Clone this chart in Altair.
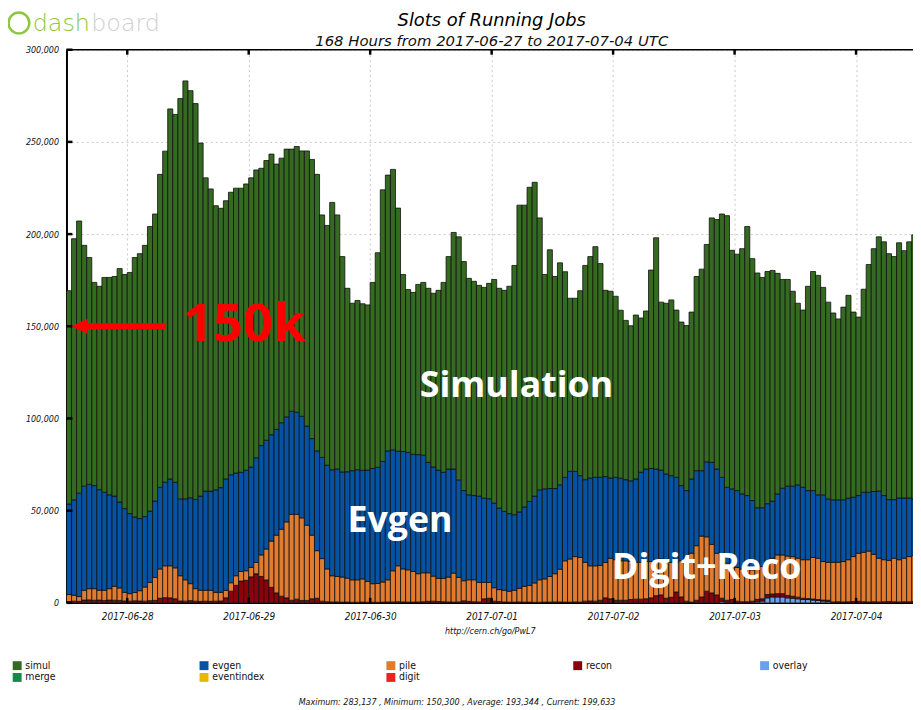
import altair as alt
import pandas as pd

# ---------------- data ----------------
HOUR = 3600 * 1000
START = int(pd.Timestamp("2017-06-27 12:00", tz="UTC").timestamp() * 1000)

# cumulative top of the whole stack (simul top)
total_top = [
    169300, 197500, 207100, 193900, 187300, 173800, 171700, 176500, 176500, 177000, 181300, 178100,
    179200, 187300, 189400, 193900, 204100, 210900, 232400, 245000, 267900, 264900, 273500, 283100,
    277800, 270800, 249400, 230500, 224500, 215400, 214000, 218100, 222700, 224900, 224900, 227200,
    230500, 234800, 235700, 239900, 243400, 238000, 241200, 246100, 246100, 247500, 245100, 245100,
    240500, 232400, 210400, 204700, 217200, 210400, 187800, 170600, 162500, 164000, 162200, 161600,
    173800, 189900, 224000, 232000, 235100, 214100, 178100, 169900, 168400, 172700, 173800, 170600,
    167900, 169500, 173800, 187800, 200900, 198500, 185100, 176000, 174400, 172200, 171100, 173300,
    175400, 170600, 169500, 171700, 183000, 215700, 215700, 225400, 228100, 208800, 178100, 191500,
    177000, 184400, 179600, 165200, 165200, 169300, 183000, 187800, 193200, 184000, 169500, 169000,
    166300, 158700, 153200, 150300, 156100, 154500, 158300, 180500, 198000, 163100, 162500, 164300,
    158800, 152300, 150400, 157700, 177000, 181000, 194400, 208800, 207900, 210900, 210000, 191200,
    189100, 192100, 204100, 186700, 178900, 176500, 179700, 180300, 178700, 175400, 175400, 169000,
    162500, 158800, 171700, 179700, 177600, 171100, 163100, 157200, 154000, 160400, 166800, 157700,
    155000, 170100, 183500, 192100, 198500, 195800, 189400, 187800, 195300, 191000, 195800, 199600,
]
# cumulative top of evgen
evgen_top = [
    53600, 55900, 59500, 63300, 64300, 63600, 61400, 60000, 58600, 57900, 54700, 51100,
    48400, 46600, 45700, 46800, 49800, 55200, 62700, 65400, 67200, 65400, 56400, 56400,
    57000, 56100, 57900, 60600, 60600, 61300, 62500, 67200, 69500, 70400, 70800, 71900,
    73700, 78700, 85300, 88200, 91200, 94100, 97700, 100900, 103900, 103400, 101200, 95900,
    89100, 82400, 78900, 74700, 72200, 72600, 71000, 71100, 71700, 72200, 71900, 72000,
    72900, 73500, 76700, 82400, 83000, 82300, 82100, 81600, 80600, 80400, 80100, 76200,
    73700, 72000, 70800, 72600, 72600, 66700, 60900, 58600, 58200, 57900, 56800, 56500,
    54100, 51400, 49600, 48400, 47800, 49300, 52000, 55000, 57900, 61300, 61800, 62000,
    62000, 64000, 68100, 71300, 71300, 69000, 66800, 67700, 68100, 68100, 68500, 67700,
    68100, 67600, 66800, 66200, 67200, 70800, 72600, 72900, 72600, 72000, 69900, 69000,
    68100, 63600, 60900, 67200, 71700, 71700, 76500, 76200, 72600, 68100, 62700, 61800,
    60900, 59100, 58200, 55500, 51600, 51600, 53800, 55200, 59100, 62200, 63300, 63300,
    64000, 62700, 60900, 60900, 58600, 58600, 56400, 55900, 55900, 55900, 56800, 57300,
    58200, 60000, 60000, 60400, 60600, 58200, 56000, 56000, 56900, 56900, 56900, 56400,
]
# cumulative top of pile
pile_top = [
    4500, 4100, 3400, 6800, 7700, 7700, 6800, 6800, 7700, 9000, 8100, 5700,
    5000, 5600, 6600, 8600, 11100, 13800, 18400, 20100, 20100, 19000, 14700, 12500,
    10400, 7700, 6800, 6800, 6800, 5700, 5700, 6800, 10900, 14700, 17000, 17400,
    19200, 21900, 26000, 29200, 33500, 36700, 39900, 43900, 48000, 48000, 46100, 42100,
    36700, 28300, 24000, 18400, 14700, 14300, 14000, 13400, 12500, 12500, 13000, 11600,
    10400, 10500, 11300, 12500, 17400, 20100, 18400, 17900, 17000, 15800, 16300, 16300,
    14500, 13300, 13300, 14000, 16100, 13800, 12000, 12500, 12500, 11100, 11100, 11100,
    8200, 7200, 6800, 6300, 6800, 7900, 9000, 9500, 10800, 12500, 13000, 14300,
    15800, 18300, 22800, 23800, 25100, 24600, 22000, 20100, 20100, 20300, 21900, 24200,
    23400, 22800, 22800, 22400, 22000, 22000, 22400, 22400, 23400, 23800, 23000, 22000,
    22000, 22800, 24200, 26900, 31000, 36200, 35800, 31700, 26900, 23400, 21500, 19700,
    19200, 18300, 18300, 17900, 18300, 19700, 22400, 24200, 26000, 26000, 25400, 25100,
    24200, 23400, 23400, 24600, 24200, 22400, 22000, 22000, 22000, 22400, 23400, 25100,
    26900, 27400, 28100, 26300, 24200, 23400, 23000, 24200, 23400, 24200, 25100, 25600,
]
recon = [
    700, 900, 800, 1500, 1600, 1400, 1500, 1300, 1500, 1400, 1300, 1000,
    900, 1100, 1000, 900, 1200, 1300, 2500, 2800, 2700, 2200, 1000, 900,
    1200, 900, 800, 900, 800, 900, 1000, 2700, 6300, 9500, 11800, 12200,
    14100, 15800, 14300, 12400, 8400, 5400, 3600, 2700, 1400, 2000, 1300, 1300,
    2200, 2500, 900, 600, 500, 500, 400, 400, 300, 300, 400, 300,
    300, 300, 400, 500, 500, 600, 500, 400, 400, 500, 600, 800,
    900, 700, 600, 500, 400, 500, 1100, 800, 600, 500, 2200, 2500,
    900, 700, 500, 400, 400, 500, 400, 400, 300, 300, 400, 400,
    500, 500, 400, 400, 500, 400, 900, 1000, 900, 1400, 2700, 2200,
    1400, 1400, 1400, 1800, 2000, 2000, 2200, 2700, 3900, 4300, 2500, 3000,
    5900, 3200, 900, 400, 1400, 3200, 6300, 5400, 4300, 1700, 1400, 1800,
    900, 600, 600, 900, 1300, 1200, 1800, 1600, 1800, 1800, 1300, 1100,
    900, 700, 500, 600, 500, 500, 600, 500, 600, 500, 600, 700,
    800, 600, 500, 600, 500, 600, 700, 600, 500, 600, 600, 700,
]
overlay = [
    0, 0, 0, 0, 0, 0, 0, 0, 0, 0, 0, 0,
    0, 0, 0, 0, 0, 0, 0, 0, 0, 0, 0, 0,
    0, 0, 0, 0, 0, 0, 0, 0, 0, 0, 0, 0,
    0, 0, 0, 0, 0, 0, 0, 0, 0, 0, 0, 0,
    0, 0, 0, 0, 0, 0, 0, 0, 0, 0, 0, 0,
    0, 0, 0, 0, 0, 0, 0, 0, 0, 0, 0, 0,
    0, 0, 0, 0, 0, 0, 0, 0, 0, 0, 0, 0,
    0, 0, 0, 0, 0, 0, 0, 0, 0, 0, 0, 0,
    0, 0, 0, 0, 0, 0, 0, 0, 0, 0, 0, 0,
    0, 0, 0, 0, 0, 0, 0, 0, 0, 0, 0, 0,
    0, 0, 0, 0, 0, 0, 0, 0, 0, 800, 0, 0,
    0, 0, 0, 0, 600, 1000, 2700, 3200, 3200, 3200, 2700, 2500,
    2200, 1800, 1800, 1500, 1300, 1000, 800, 0, 0, 0, 0, 0,
    0, 0, 0, 0, 0, 0, 0, 0, 0, 0, 0, 0,
]

series = ["simul", "evgen", "pile", "recon", "overlay", "merge", "eventindex", "digit"]
colors = ["#356b21", "#0652a3", "#e07b2f", "#8b000c", "#6a9ff0", "#14894a", "#e8b800", "#ee2020"]
stack_order = {"overlay": 0, "recon": 1, "pile": 2, "evgen": 3, "simul": 4}

day_labels = ["2017-06-28", "2017-06-29", "2017-06-30", "2017-07-01",
              "2017-07-02", "2017-07-03", "2017-07-04"]
y_ticks = [0, 50000, 100000, 150000, 200000, 250000, 300000]

title_text = "Slots of Running Jobs"
subtitle_text = "168 Hours from 2017-06-27 to 2017-07-04 UTC"
footer = "Maximum: 283,137 , Minimum: 150,300 , Average: 193,344 , Current: 199,633"

# ---------------- build table ----------------
rows = []
for i in range(len(total_top)):
    t0 = START + i * HOUR
    parts = {
        "overlay": overlay[i],
        "recon": recon[i],
        "pile": pile_top[i] - recon[i] - overlay[i],
        "evgen": evgen_top[i] - pile_top[i],
        "simul": total_top[i] - evgen_top[i],
    }
    for name, v in parts.items():
        rows.append({"t": t0, "t2": t0 + HOUR, "series": name, "value": v,
                     "order": stack_order[name]})
df = pd.DataFrame(rows)
day_ms = [int(pd.Timestamp(d, tz="UTC").timestamp() * 1000) for d in day_labels]

LF = "DejaVu Sans Condensed, DejaVu Sans"
URL = "http://cern.ch/go/PwL7"

x_scale = alt.Scale(type="utc", domain=[START, START + int(167.25 * HOUR)], nice=False)
y_scale = alt.Scale(domain=[0, 300000], nice=False)

x_axis = alt.Axis(values=day_ms, format="%Y-%m-%d", labelFont=LF, labelFontSize=10,
                  labelFontStyle="italic", labelColor="#111", labelPadding=9, ticks=False,
                  domainColor="black", domainWidth=1.5, grid=True, gridColor="#c8c8c8",
                  gridDash=[2, 3], title=URL, titleFont=LF, titleFontSize=9,
                  titleFontStyle="italic", titleFontWeight="normal", titlePadding=5,
                  titleColor="#111", labelFlush=False)
y_axis = alt.Axis(values=y_ticks, format=",d", labelFont=LF, labelFontSize=9,
                  labelFontStyle="italic", labelColor="#111", labelPadding=8, ticks=False,
                  domainColor="black", domainWidth=2, grid=True, gridColor="#c8c8c8",
                  gridDash=[2, 3], title=None)

legend = alt.Legend(orient="none", legendX=-55, legendY=616, direction="horizontal",
                    columns=5, title=None, symbolType="square", symbolSize=81,
                    symbolStrokeWidth=0, labelFont=LF, labelFontSize=10.5, labelColor="#111",
                    gridAlign="all", columnPadding=121.5, rowPadding=1, labelOffset=3,
                    padding=0, labelLimit=200)

bars = alt.Chart(df).transform_stack(
    stack="value", as_=["y0", "y1"], groupby=["t"], sort=[alt.SortField("order")]
).mark_bar(stroke="#111", strokeWidth=0.8, clip=True).encode(
    x=alt.X("t:T", scale=x_scale, axis=x_axis, title=URL),
    x2="t2:T",
    y=alt.Y("y0:Q", scale=y_scale, axis=y_axis, title=None),
    y2="y1:Q",
    color=alt.Color("series:N", scale=alt.Scale(domain=series, range=colors), legend=legend),
)

# frame top line and inward ticks
top_line = alt.Chart(pd.DataFrame({"v": [300000]})).mark_rule(
    color="black", strokeWidth=1.5).encode(y=alt.Y("v:Q", scale=y_scale, title=None))
yt = alt.Chart(pd.DataFrame({"v": y_ticks})).mark_rule(color="black", strokeWidth=2.5).encode(
    y=alt.Y("v:Q", scale=y_scale, title=None), x=alt.value(0), x2=alt.value(6))
days_df = pd.DataFrame({"t": day_ms})
xt_top = alt.Chart(days_df).mark_rule(color="black", strokeWidth=2.5).encode(
    x=alt.X("t:T", scale=x_scale, title=URL), y=alt.value(0), y2=alt.value(5))
xt_bot = alt.Chart(days_df).mark_rule(color="black", strokeWidth=2.5).encode(
    x=alt.X("t:T", scale=x_scale, title=URL), y=alt.value(553), y2=alt.value(558))

# annotations
arrow_df = pd.DataFrame({"t": [START + int(3.9 * HOUR)], "t2": [START + int(19.6 * HOUR)],
                         "v": [150000]})
arrow_line = alt.Chart(arrow_df).mark_rule(color="#ff0000", strokeWidth=6).encode(
    x=alt.X("t:T", scale=x_scale, title=URL), x2="t2:T",
    y=alt.Y("v:Q", scale=y_scale, title=None))
head_df = pd.DataFrame({"t": [START + int(2.55 * HOUR)], "v": [150000]})
arrow_head = alt.Chart(head_df).mark_point(
    shape="M-1,0L1,-0.95L1,0.95Z", size=256, filled=True, color="#ff0000", opacity=1,
    strokeWidth=0).encode(
    x=alt.X("t:T", scale=x_scale, title=URL), y=alt.Y("v:Q", scale=y_scale, title=None))

k_df = pd.DataFrame({"t": [START + int(23.0 * HOUR)], "v": [150500], "label": ["150k"]})
k_text = alt.Chart(k_df).mark_text(font="Open Sans", fontWeight="bold", fontSize=53,
                                   color="#ff0000", align="left", baseline="middle").encode(
    x=alt.X("t:T", scale=x_scale, title=URL), y=alt.Y("v:Q", scale=y_scale, title=None),
    text="label:N")

lab_df = pd.DataFrame({
    "t": [START + int(88.9 * HOUR), START + int(65.9 * HOUR), START + int(126.5 * HOUR)],
    "v": [117800, 44100, 19000],
    "label": ["Simulation", "Evgen", "Digit+Reco"],
})
lab_text = alt.Chart(lab_df).mark_text(font="Open Sans", fontWeight="bold", fontSize=36,
                                       color="white", align="center", baseline="middle").encode(
    x=alt.X("t:T", scale=x_scale, title=URL), y=alt.Y("v:Q", scale=y_scale, title=None),
    text="label:N")

foot = alt.Chart(pd.DataFrame({"label": [footer]})).mark_text(
    font=LF, fontSize=9, fontStyle="italic", color="#111", align="center",
    baseline="middle").encode(text="label:N", x=alt.value(394), y=alt.value(658))

title_mark = alt.Chart(pd.DataFrame({"label": [title_text]})).mark_text(
    font="DejaVu Sans", fontSize=18, fontStyle="italic", color="black", align="center",
    baseline="alphabetic").encode(text="label:N", x=alt.value(429), y=alt.value(-24))
subtitle_mark = alt.Chart(pd.DataFrame({"label": [subtitle_text]})).mark_text(
    font="DejaVu Sans", fontSize=15, fontStyle="italic", color="#111", align="center",
    baseline="alphabetic").encode(text="label:N", x=alt.value(429), y=alt.value(-4))

logo_dash = alt.Chart(pd.DataFrame({"label": ["dash"]})).mark_text(
    font="DejaVu Sans", fontWeight=200, fontSize=24, color="#8dc63f", align="left",
    baseline="top").encode(text="label:N", x=alt.value(-34), y=alt.value(-38))
logo_board = alt.Chart(pd.DataFrame({"label": ["board"]})).mark_text(
    font="DejaVu Sans", fontWeight=200, fontSize=24, color="#cfcfcf", align="left",
    baseline="top").encode(text="label:N", x=alt.value(25), y=alt.value(-38))
logo_icon = alt.Chart(pd.DataFrame({"label": ["icon"]})).mark_point(
    shape="circle", size=440, filled=False, color="#8dc63f", strokeWidth=2.5, opacity=1).encode(
    x=alt.value(-48), y=alt.value(-27))

chart = alt.layer(
    bars, top_line, yt, xt_top, xt_bot, arrow_line, arrow_head, k_text, lab_text,
    foot, title_mark, subtitle_mark, logo_icon, logo_dash, logo_board,
).properties(
    width=854, height=558,
    autosize=alt.AutoSizeParams(type="none"),
    padding={"left": 59, "top": 39, "right": 0, "bottom": 105},
    background="white",
).configure_view(stroke=None)

chart.save("out.html", embed_options={"renderer": "svg", "actions": False})
